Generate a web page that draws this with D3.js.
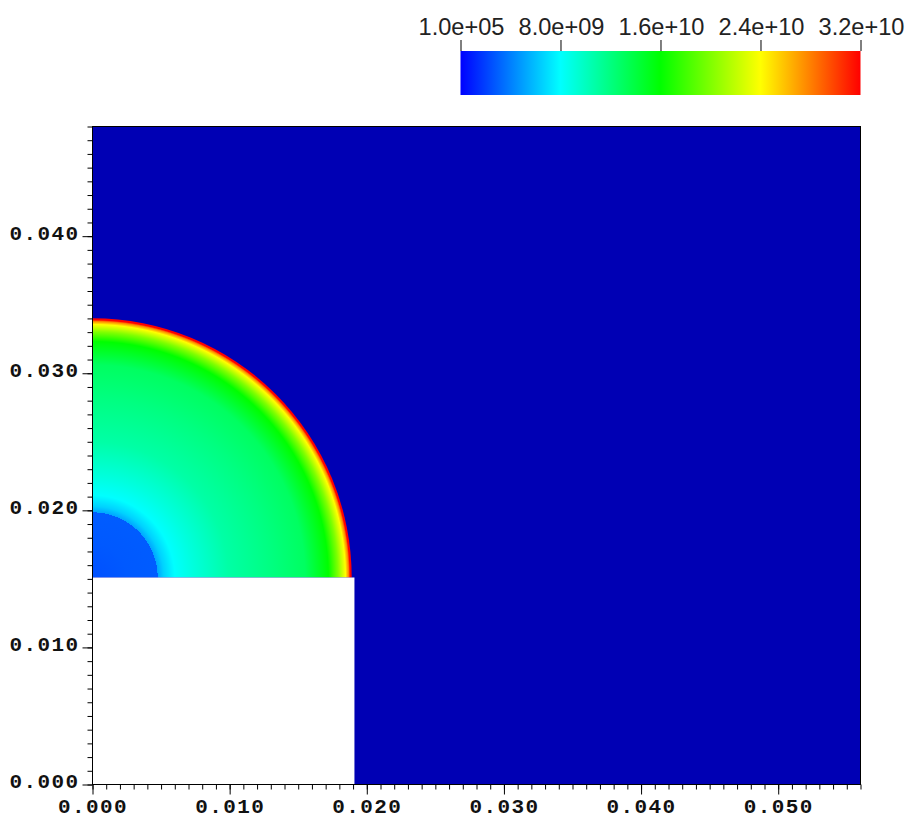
<!DOCTYPE html>
<html>
<head>
<meta charset="utf-8">
<script src="https://cdn.jsdelivr.net/npm/d3@7"></script>
<style>
  html, body { margin: 0; padding: 0; background: #fff; }
  svg { display: block; }
  .plot-axis text { font-family: "Liberation Mono", monospace; font-weight: bold; font-size: 21px; letter-spacing: 1.4px; fill: #111; }
  .legend-axis text { font-family: "Liberation Sans", sans-serif; font-size: 23.6px; fill: #222; }
</style>
</head>
<body>
<div id="chart"></div>
<script>
// Color bar
const legendValues = [1e5, 8e9, 1.6e10, 2.4e10, 3.2e10];
const legendColors = ["#0000ff", "#00ffff", "#00ff00", "#ffff00", "#ff0000"];
const legendLabels = ["1.0e+05", "8.0e+09", "1.6e+10", "2.4e+10", "3.2e+10"];

// Axes
const xDomain = [0, 0.056];
const yDomain = [0, 0.048];
const majorTicks = [0, 0.01, 0.02, 0.03, 0.04, 0.05];
const minorStep = 0.001;

// Cut-out corner and the center of the wave
const cutoutX = 0.0191;
const cutoutY = 0.0151;

// Radial profile, read along the left edge of the wave
const profileRadius = [
  0, 0.0025, 0.00475, 0.00475, 0.0052, 0.006, 0.0073, 0.0099, 0.0131,
  0.0155, 0.0172, 0.0179, 0.01845, 0.01868, 0.01878, 0.0189, 0.0189,
];
const profileValue = [
  2.5e9, 2.8e9, 2.9e9, 5.2e9, 6.6e9, 8e9, 9e9, 1.08e10, 1.2e10,
  1.3e10, 1.6e10, 2e10, 2.4e10, 2.8e10, 3.2e10, 3.2e10, 3.2e10,
];
const outsideColor = "#0000b4";

const drawChart = () => {
  const dimensions = {
    width: 912,
    height: 826,
    left: 92.5,
    right: 860.5,
    top: 126.5,
    bottom: 784.5,
    legend: { left: 460.5, right: 860.5, top: 51, height: 44 },
  };

  const svg = d3
    .select("#chart")
    .append("svg")
    .attr("width", dimensions.width)
    .attr("height", dimensions.height);
  const defs = svg.append("defs");

  // Scales
  const xScale = d3.scaleLinear().domain(xDomain).range([dimensions.left, dimensions.right]);
  const yScale = d3.scaleLinear().domain(yDomain).range([dimensions.bottom, dimensions.top]);
  const colorScale = d3.scaleLinear().domain(legendValues).range(legendColors).clamp(true);
  const legendScale = d3
    .scaleLinear()
    .domain(d3.extent(legendValues))
    .range([dimensions.legend.left, dimensions.legend.right]);

  // Background field
  svg
    .append("rect")
    .attr("x", xScale(0))
    .attr("y", yScale(yDomain[1]))
    .attr("width", xScale(xDomain[1]) - xScale(0))
    .attr("height", yScale(0) - yScale(yDomain[1]))
    .attr("fill", outsideColor);

  // Wave, a radial gradient built from the profile
  const maxRadius = d3.max(profileRadius);
  const radiusPx = xScale(maxRadius) - xScale(0);
  const waveGradient = defs
    .append("radialGradient")
    .attr("id", "wave-gradient")
    .attr("gradientUnits", "userSpaceOnUse")
    .attr("cx", xScale(0))
    .attr("cy", yScale(cutoutY))
    .attr("r", radiusPx);
  waveGradient
    .selectAll("stop")
    .data(profileRadius)
    .join("stop")
    .attr("offset", (d) => d / maxRadius)
    .attr("stop-color", (d, i) => colorScale(profileValue[i]));

  defs
    .append("clipPath")
    .attr("id", "plot-clip")
    .append("rect")
    .attr("x", xScale(0))
    .attr("y", yScale(yDomain[1]))
    .attr("width", xScale(xDomain[1]) - xScale(0))
    .attr("height", yScale(cutoutY) - yScale(yDomain[1]));

  svg
    .append("circle")
    .attr("cx", xScale(0))
    .attr("cy", yScale(cutoutY))
    .attr("r", radiusPx)
    .attr("fill", "url(#wave-gradient)")
    .attr("clip-path", "url(#plot-clip)");

  // Cut-out corner
  svg
    .append("rect")
    .attr("x", xScale(0))
    .attr("y", yScale(cutoutY))
    .attr("width", xScale(cutoutX) - xScale(0))
    .attr("height", yScale(0) - yScale(cutoutY))
    .attr("fill", "#fff");

  // Frame
  svg
    .append("rect")
    .attr("x", xScale(0))
    .attr("y", yScale(yDomain[1]))
    .attr("width", xScale(xDomain[1]) - xScale(0))
    .attr("height", yScale(0) - yScale(yDomain[1]))
    .attr("fill", "none")
    .attr("stroke", "#000");

  // Minor ticks
  const xMinor = d3.range(0, Math.round(xDomain[1] / minorStep) + 1).map((i) => i * minorStep);
  const yMinor = d3.range(0, Math.round(yDomain[1] / minorStep) + 1).map((i) => i * minorStep);
  svg
    .append("g")
    .attr("transform", `translate(0, ${yScale(0)})`)
    .call(d3.axisBottom(xScale).tickValues(xMinor).tickSize(5).tickFormat(""))
    .call((g) => g.select(".domain").remove());
  svg
    .append("g")
    .attr("transform", `translate(${xScale(0)}, 0)`)
    .call(d3.axisLeft(yScale).tickValues(yMinor).tickSize(5).tickFormat(""))
    .call((g) => g.select(".domain").remove());

  // Major ticks
  const tickFormat = d3.format(".3f");
  svg
    .append("g")
    .attr("class", "plot-axis")
    .attr("transform", `translate(0, ${yScale(0)})`)
    .call(d3.axisBottom(xScale).tickValues(majorTicks).tickSize(10).tickPadding(4).tickFormat(tickFormat))
    .call((g) => g.select(".domain").remove());
  svg
    .append("g")
    .attr("class", "plot-axis")
    .attr("transform", `translate(${xScale(0)}, 0)`)
    .call(d3.axisLeft(yScale).tickValues(majorTicks.filter((d) => d <= yDomain[1])).tickSize(10).tickPadding(3).tickFormat(tickFormat))
    .call((g) => g.select(".domain").remove())
    .call((g) => g.selectAll("text").attr("y", -3.5));

  // Color bar
  const legendGradient = defs
    .append("linearGradient")
    .attr("id", "legend-gradient");
  legendGradient
    .selectAll("stop")
    .data(legendValues)
    .join("stop")
    .attr("offset", (d) => (legendScale(d) - dimensions.legend.left) / (dimensions.legend.right - dimensions.legend.left))
    .attr("stop-color", (d) => colorScale(d));

  svg
    .append("rect")
    .attr("x", dimensions.legend.left)
    .attr("y", dimensions.legend.top)
    .attr("width", dimensions.legend.right - dimensions.legend.left)
    .attr("height", dimensions.legend.height)
    .attr("fill", "url(#legend-gradient)");

  svg
    .append("g")
    .attr("class", "legend-axis")
    .attr("transform", `translate(0, ${dimensions.legend.top})`)
    .call(
      d3
        .axisTop(legendScale)
        .tickValues(legendValues)
        .tickSize(11)
        .tickPadding(5)
        .tickFormat((d, i) => legendLabels[i])
    )
    .call((g) => g.select(".domain").remove())
    .call((g) => g.selectAll("text").attr("x", 0.5));
};

drawChart();
</script>
</body>
</html>
